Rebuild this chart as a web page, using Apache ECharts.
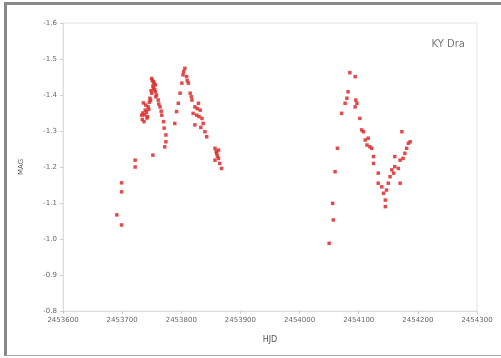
<!DOCTYPE html>
<html>
<head>
<meta charset="utf-8">
<script src="https://cdn.jsdelivr.net/npm/echarts@6/dist/echarts.min.js"></script>
<style>
html,body{margin:0;padding:0;background:#fff;}
#frame{position:absolute;left:4px;top:2px;width:497px;height:354px;border-top:3px solid #888;border-left:3px solid #888;border-bottom:1px solid #aaa;box-sizing:border-box;}
#chart{position:absolute;left:0;top:0;width:501px;height:358px;}
</style>
</head>
<body>
<div id="frame"></div>
<div id="chart"></div>
<script>
var title = "KY Dra";
var xName = "HJD";
var yName = "MAG";
var xTicks = [2453600, 2453700, 2453800, 2453900, 2454000, 2454100, 2454200, 2454300];
var yTicks = [-1.6, -1.5, -1.4, -1.3, -1.2, -1.1, -1.0, -0.9, -0.8];

var season1JD = [2453691, 2453699, 2453699, 2453699, 2453722, 2453722, 2453752,
  2453736, 2453739, 2453742, 2453733, 2453744, 2453737, 2453735, 2453740, 2453745,
  2453734, 2453738, 2453741, 2453746, 2453748, 2453743,
  2453750, 2453753, 2453756, 2453753, 2453756, 2453758, 2453750, 2453747, 2453752, 2453755,
  2453751, 2453754, 2453757, 2453749,
  2453761, 2453764, 2453767, 2453770, 2453771, 2453774, 2453774, 2453772, 2453762, 2453766,
  2453789, 2453792, 2453795, 2453798, 2453801, 2453803, 2453806, 2453809, 2453812,
  2453815, 2453818, 2453823, 2453820, 2453829, 2453826, 2453832, 2453835, 2453823,
  2453837, 2453840, 2453843, 2453830, 2453827, 2453804, 2453810, 2453817, 2453833,
  2453857, 2453860, 2453863, 2453857, 2453865, 2453868, 2453863, 2453861, 2453859];
var season1Mag = [-1.067, -1.039, -1.156, -1.131, -1.219, -1.200, -1.233,
  -1.378, -1.358, -1.336, -1.344, -1.367, -1.326, -1.350, -1.372, -1.360,
  -1.332, -1.345, -1.352, -1.380, -1.385, -1.340,
  -1.446, -1.437, -1.428, -1.419, -1.409, -1.400, -1.405, -1.391, -1.425, -1.415,
  -1.440, -1.432, -1.395, -1.412,
  -1.386, -1.367, -1.344, -1.326, -1.308, -1.289, -1.270, -1.256, -1.375, -1.355,
  -1.321, -1.354, -1.377, -1.405, -1.433, -1.456, -1.474, -1.451, -1.433,
  -1.405, -1.386, -1.367, -1.349, -1.377, -1.344, -1.358, -1.335, -1.317,
  -1.321, -1.298, -1.284, -1.340, -1.362, -1.465, -1.440, -1.395, -1.310,
  -1.252, -1.238, -1.224, -1.219, -1.210, -1.196, -1.247, -1.230, -1.243];

var season2JD = [2454050, 2454057, 2454056, 2454060, 2454064, 2454071, 2454077, 2454080,
  2454082, 2454085, 2454094, 2454095, 2454097, 2454094, 2454102, 2454105, 2454108,
  2454111, 2454116, 2454114, 2454119, 2454122, 2454125, 2454125, 2454133, 2454133,
  2454139, 2454142, 2454145, 2454145, 2454147, 2454150, 2454153, 2454156, 2454159,
  2454161, 2454167, 2454170, 2454170, 2454175, 2454178, 2454161, 2454181, 2454184,
  2454187, 2454173];
var season2Mag = [-0.988, -1.053, -1.099, -1.187, -1.252, -1.349, -1.377, -1.391,
  -1.409, -1.462, -1.451, -1.386, -1.377, -1.367, -1.335, -1.303, -1.298,
  -1.275, -1.280, -1.261, -1.256, -1.252, -1.229, -1.210, -1.183, -1.155,
  -1.145, -1.127, -1.108, -1.090, -1.136, -1.155, -1.173, -1.192, -1.183,
  -1.201, -1.196, -1.155, -1.219, -1.224, -1.238, -1.229, -1.252, -1.266,
  -1.270, -1.298];

var pts = [];
season1JD.forEach(function (x, i) { pts.push([x, season1Mag[i]]); });
season2JD.forEach(function (x, i) { pts.push([x, season2Mag[i]]); });

var chart = echarts.init(document.getElementById('chart'), null, {renderer: 'canvas'});
chart.setOption({
  animation: false,
  backgroundColor: 'transparent',
  title: {
    text: title, right: 31, top: 34,
    textStyle: {fontSize: 10, fontWeight: 'normal', color: '#777', fontFamily: 'DejaVu Sans'}
  },
  grid: {left: 63, top: 23, right: 24, bottom: 47, show: true, borderColor: '#e4e4e4', borderWidth: 1, backgroundColor: '#fff'},
  xAxis: {
    type: 'value', min: xTicks[0], max: xTicks[xTicks.length - 1], interval: 100,
    name: xName, nameLocation: 'middle', nameGap: 25,
    nameTextStyle: {fontSize: 8, color: '#555', fontFamily: 'DejaVu Sans'},
    axisLine: {show: true, lineStyle: {color: '#ddd'}},
    axisTick: {show: true, length: 3, lineStyle: {color: '#ccc'}},
    splitLine: {show: false},
    axisLabel: {fontSize: 7, color: '#666', margin: 6, fontFamily: 'DejaVu Sans', formatter: function (v) { return String(v); }}
  },
  yAxis: {
    type: 'value', inverse: true, min: yTicks[0], max: yTicks[yTicks.length - 1], interval: 0.1,
    name: yName, nameLocation: 'middle', nameGap: 38, nameRotate: 90,
    nameTextStyle: {fontSize: 7, color: '#555', fontFamily: 'DejaVu Sans'},
    axisLine: {show: true, lineStyle: {color: '#ddd'}},
    axisTick: {show: true, length: 3, lineStyle: {color: '#ccc'}},
    splitLine: {show: false},
    axisLabel: {fontSize: 7, color: '#666', margin: 6, fontFamily: 'DejaVu Sans', formatter: function (v) { return v.toFixed(1); }}
  },
  series: [{
    type: 'scatter',
    data: pts,
    symbol: 'rect',
    symbolSize: 3.5,
    itemStyle: {color: '#dd2b2b', opacity: 0.85}
  }]
});
</script>
</body>
</html>
